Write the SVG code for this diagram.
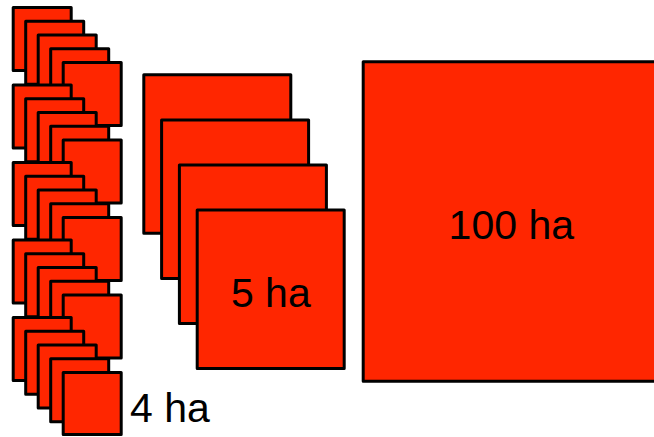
<svg xmlns="http://www.w3.org/2000/svg" width="654" height="437" viewBox="0 0 654 437">
<style>
.sq{fill:#ff2600;stroke:#000;stroke-width:3;stroke-linejoin:round}
.lbl{font-family:"Liberation Sans",Arial,sans-serif;font-size:41px;fill:#000}
</style>
<rect width="654" height="437" fill="#fff"/>
<g id="small-plots">
  <g id="small-g1" transform="translate(0,0)">
    <rect class="sq" x="13.2" y="7.5" width="58" height="63"/>
    <rect class="sq" x="25.7" y="21.25" width="58" height="63"/>
    <rect class="sq" x="38.2" y="35" width="58" height="63"/>
    <rect class="sq" x="50.7" y="48.75" width="58" height="63"/>
    <rect class="sq" x="63.2" y="62.5" width="58" height="63"/>
  </g>
  <g id="small-g2" transform="translate(0,77.5)">
    <rect class="sq" x="13.2" y="7.5" width="58" height="63"/>
    <rect class="sq" x="25.7" y="21.25" width="58" height="63"/>
    <rect class="sq" x="38.2" y="35" width="58" height="63"/>
    <rect class="sq" x="50.7" y="48.75" width="58" height="63"/>
    <rect class="sq" x="63.2" y="62.5" width="58" height="63"/>
  </g>
  <g id="small-g3" transform="translate(0,155)">
    <rect class="sq" x="13.2" y="7.5" width="58" height="63"/>
    <rect class="sq" x="25.7" y="21.25" width="58" height="63"/>
    <rect class="sq" x="38.2" y="35" width="58" height="63"/>
    <rect class="sq" x="50.7" y="48.75" width="58" height="63"/>
    <rect class="sq" x="63.2" y="62.5" width="58" height="63"/>
  </g>
  <g id="small-g4" transform="translate(0,232.5)">
    <rect class="sq" x="13.2" y="7.5" width="58" height="63"/>
    <rect class="sq" x="25.7" y="21.25" width="58" height="63"/>
    <rect class="sq" x="38.2" y="35" width="58" height="63"/>
    <rect class="sq" x="50.7" y="48.75" width="58" height="63"/>
    <rect class="sq" x="63.2" y="62.5" width="58" height="63"/>
  </g>
  <g id="small-g5" transform="translate(0,310)">
    <rect class="sq" x="13.2" y="7.5" width="58" height="63"/>
    <rect class="sq" x="25.7" y="21.25" width="58" height="63"/>
    <rect class="sq" x="38.2" y="35" width="58" height="63"/>
    <rect class="sq" x="50.7" y="48.75" width="58" height="63"/>
    <rect class="sq" x="63.2" y="62.5" width="58" height="62"/>
  </g>
  <text class="lbl" x="130" y="421.7">4 ha</text>
</g>
<g id="medium-plots">
  <rect class="sq" x="143.8" y="74.8" width="147" height="158.5"/>
  <rect class="sq" x="161.6" y="119.9" width="147" height="158.5"/>
  <rect class="sq" x="179.4" y="165" width="147" height="158.5"/>
  <rect class="sq" x="197.2" y="210.1" width="147" height="158.5"/>
  <text class="lbl" x="270.8" y="306.7" text-anchor="middle">5 ha</text>
</g>
<g id="large-plot">
  <rect class="sq" x="363.2" y="61.8" width="320" height="319.5"/>
  <text class="lbl" x="511.3" y="239.3" text-anchor="middle">100 ha</text>
</g>
<g id="connectors"/>
</svg>
